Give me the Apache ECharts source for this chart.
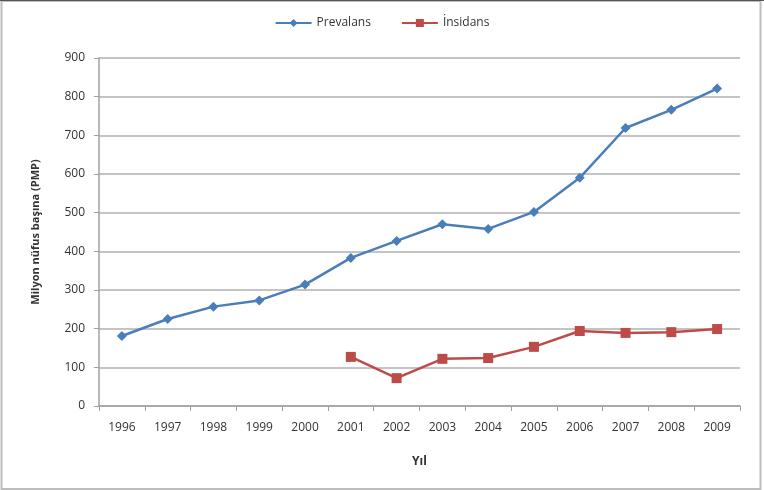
<!DOCTYPE html>
<html><head><meta charset="utf-8">
<script src="https://cdn.jsdelivr.net/npm/echarts@6/dist/echarts.min.js"></script>
<style>html,body{margin:0;padding:0;background:#fff}#c{width:764px;height:490px}</style>
</head><body><div id="c"></div>
<script>
const years = ['1996','1997','1998','1999','2000','2001','2002','2003','2004','2005','2006','2007','2008','2009'];
const prevalans = [181, 225, 257, 273, 314, 383, 427, 470, 458, 502, 590, 719, 766, 821];
const insidans = [null, null, null, null, null, 127, 72, 122, 124, 153, 194, 189, 191, 199];
const yTicks = [0, 100, 200, 300, 400, 500, 600, 700, 800, 900];

const chart = echarts.init(document.getElementById('c'), null, {renderer: 'canvas'});
const font = 'Open Sans';
chart.setOption({
  animation: false,
  backgroundColor: '#fff',
  graphic: [
    {type: 'rect', shape: {x: 1.5, y: 1, width: 759, height: 488}, style: {fill: 'none', stroke: '#bdbdbd', lineWidth: 2}},
    {type: 'line', shape: {x1: 0, y1: 0.5, x2: 764, y2: 0.5}, style: {stroke: '#555', lineWidth: 1}}
  ],
  legend: {
    top: 12, left: 'center', itemGap: 30, itemWidth: 36, itemHeight: 10,
    textStyle: {fontFamily: font, fontSize: 12, color: '#333'},
    data: ['Prevalans', 'İnsidans']
  },
  grid: {left: 99, right: 24, top: 58, bottom: 84},
  xAxis: {
    type: 'category', data: years, boundaryGap: true,
    name: 'Yıl', nameLocation: 'middle', nameGap: 50,
    nameTextStyle: {fontFamily: font, fontSize: 12, fontWeight: 'bold', color: '#333'},
    axisLine: {lineStyle: {color: '#a0a0a0', width: 1.5}},
    axisTick: {show: true, alignWithLabel: false, length: 5, lineStyle: {color: '#a0a0a0'}},
    axisLabel: {fontFamily: font, fontSize: 12, color: '#333', margin: 16}
  },
  yAxis: {
    type: 'value', min: 0, max: 900, interval: 100,
    name: 'Milyon nüfus başına (PMP)', nameLocation: 'middle', nameGap: 58, nameRotate: 90,
    nameTextStyle: {fontFamily: font, fontSize: 11, fontWeight: 'bold', color: '#333'},
    axisLine: {show: true, lineStyle: {color: '#a0a0a0', width: 1.5}},
    axisTick: {show: true, length: 5, lineStyle: {color: '#a0a0a0'}},
    axisLabel: {fontFamily: font, fontSize: 12, color: '#333', margin: 14,
      formatter: v => yTicks.includes(v) ? String(v) : ''},
    splitLine: {lineStyle: {color: '#c4c4c4', width: 2}}
  },
  series: [
    {name: 'Prevalans', type: 'line', data: prevalans,
     symbol: 'diamond', symbolSize: 10,
     itemStyle: {color: '#4a7ebb'}, lineStyle: {color: '#4a7ebb', width: 2.5}},
    {name: 'İnsidans', type: 'line', data: insidans, connectNulls: false,
     symbol: 'rect', symbolSize: 10,
     itemStyle: {color: '#be4b48'}, lineStyle: {color: '#be4b48', width: 2.5}}
  ]
});
</script></body></html>
